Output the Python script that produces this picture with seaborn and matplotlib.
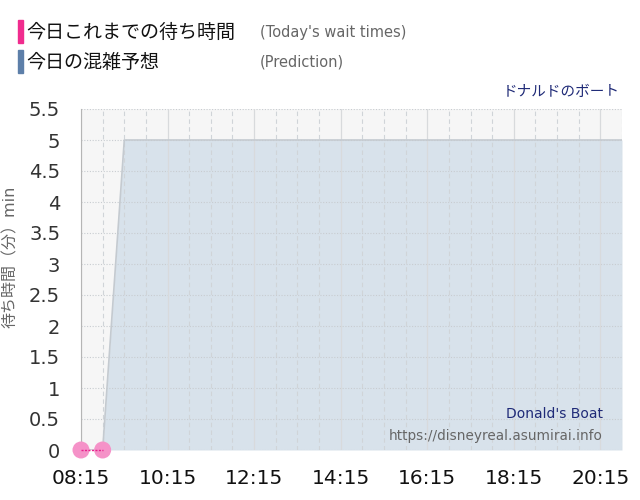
import numpy as np
import pandas as pd
import matplotlib
matplotlib.use("Agg")
import matplotlib.pyplot as plt
import matplotlib.ticker as mticker
from matplotlib.patches import Rectangle
import seaborn as sns

# Prediction (every 30 min, in hours since midnight)
pred_times = [8.25, 8.75, 9.25, 9.75, 10.25, 10.75, 11.25, 11.75, 12.25, 12.75,
              13.25, 13.75, 14.25, 14.75, 15.25, 15.75, 16.25, 16.75, 17.25,
              17.75, 18.25, 18.75, 19.25, 19.75, 20.25, 20.75]
pred_waits = [0, 0, 5, 5, 5, 5, 5, 5, 5, 5,
              5, 5, 5, 5, 5, 5, 5, 5, 5,
              5, 5, 5, 5, 5, 5, 5]

# Today's actual wait times
actual_times = [8.25, 8.75]
actual_waits = [0, 0]

x_ticks = [8.25, 10.25, 12.25, 14.25, 16.25, 18.25, 20.25]
y_ticks = [0, 0.5, 1, 1.5, 2, 2.5, 3, 3.5, 4, 4.5, 5, 5.5]

pred_df = pd.DataFrame({"time": pred_times, "wait": pred_waits})
actual_df = pd.DataFrame({"time": actual_times, "wait": actual_waits})

sns.set_style("white")
plt.rcParams['font.family'] = ['DejaVu Sans', 'Noto Sans CJK JP']

fig = plt.figure(figsize=(6.4, 5.0), dpi=100)
ax = fig.add_axes([81 / 640, 50 / 500, 541 / 640, 341 / 500])
ax.set_facecolor("#f6f6f6")

# prediction area
ax.fill_between(pred_df["time"], pred_df["wait"], color="#d8e2eb", lw=0, zorder=1)
sns.lineplot(data=pred_df, x="time", y="wait", ax=ax, color="#c4cad0", lw=1.2, zorder=3)

# grid drawn over the area
for y in y_ticks:
    ax.axhline(y, color="#c8ccd0", lw=0.8, ls=(0, (1, 1.5)), zorder=2)
for x in np.arange(8.75, 20.8, 0.5):
    if (x - 8.25) % 2 != 0:
        ax.axvline(x, color="#d0d4d8", lw=0.8, ls=(0, (4, 3)), zorder=2)
for x in x_ticks:
    ax.axvline(x, color="#d8dadc", lw=0.9, zorder=2)

# actual
sns.scatterplot(data=actual_df, x="time", y="wait", ax=ax, color="#f592c8", s=150,
                edgecolor="none", zorder=5, clip_on=False)
sns.lineplot(data=actual_df, x="time", y="wait", ax=ax, color="#e8208c", lw=1,
             ls=(0, (1.5, 1)), zorder=6)
ax.lines[-1].set_clip_on(False)

ax.set_xlim(8.25, 20.75)
ax.set_ylim(0, 5.5)
ax.set_xticks(x_ticks)
ax.set_yticks(y_ticks)
ax.xaxis.set_major_formatter(mticker.FuncFormatter(
    lambda v, p: f"{int(v):02d}:{int(round((v % 1) * 60)):02d}"))
ax.yaxis.set_major_formatter(mticker.FuncFormatter(lambda v, p: f"{v:g}"))
ax.tick_params(axis="x", length=12, color="#dddddd", labelsize=14.5, labelcolor="#111111", pad=2)
ax.tick_params(axis="y", length=12, color="#dddddd", labelsize=14, labelcolor="#333333", pad=3)
ax.set_xlabel("")
ax.set_ylabel("待ち時間（分）min", fontsize=11.5, color="#666666")
ax.yaxis.set_label_coords((18 - 81) / 541, (450 - 257) / 341)

for s in ["top", "right", "bottom"]:
    ax.spines[s].set_visible(False)
ax.spines["left"].set_color("#b5b5b5")

# watermark texts
ax.text(0.965, 0.105, "Donald's Boat", transform=ax.transAxes, ha="right", va="center",
        fontsize=10, color="#1f2a77", zorder=7)
ax.text(0.965, 0.04, "https://disneyreal.asumirai.info", transform=ax.transAxes,
        ha="right", va="center", fontsize=9.8, color="#666666", zorder=7)
fig.text(620 / 640, 1 - 91 / 500, "ドナルドのボート", ha="right", va="center",
         fontsize=10.5, color="#1f2a77")

# header legend
fig.patches.append(Rectangle((18 / 640, 1 - 43 / 500), 5 / 640, 23 / 500,
                             transform=fig.transFigure, color="#f02c8e"))
fig.patches.append(Rectangle((18 / 640, 1 - 73 / 500), 5 / 640, 23 / 500,
                             transform=fig.transFigure, color="#5d7fa9"))
fig.text(26 / 640, 1 - 32 / 500, "今日これまでの待ち時間", ha="left", va="center",
         fontsize=13.7, color="#111111")
fig.text(260 / 640, 1 - 32 / 500, "(Today's wait times)", ha="left", va="center",
         fontsize=10.5, color="#666666")
fig.text(26 / 640, 1 - 62 / 500, "今日の混雑予想", ha="left", va="center",
         fontsize=13.7, color="#111111")
fig.text(260 / 640, 1 - 62 / 500, "(Prediction)", ha="left", va="center",
         fontsize=10.5, color="#666666")

fig.savefig("out.png", dpi=100)
